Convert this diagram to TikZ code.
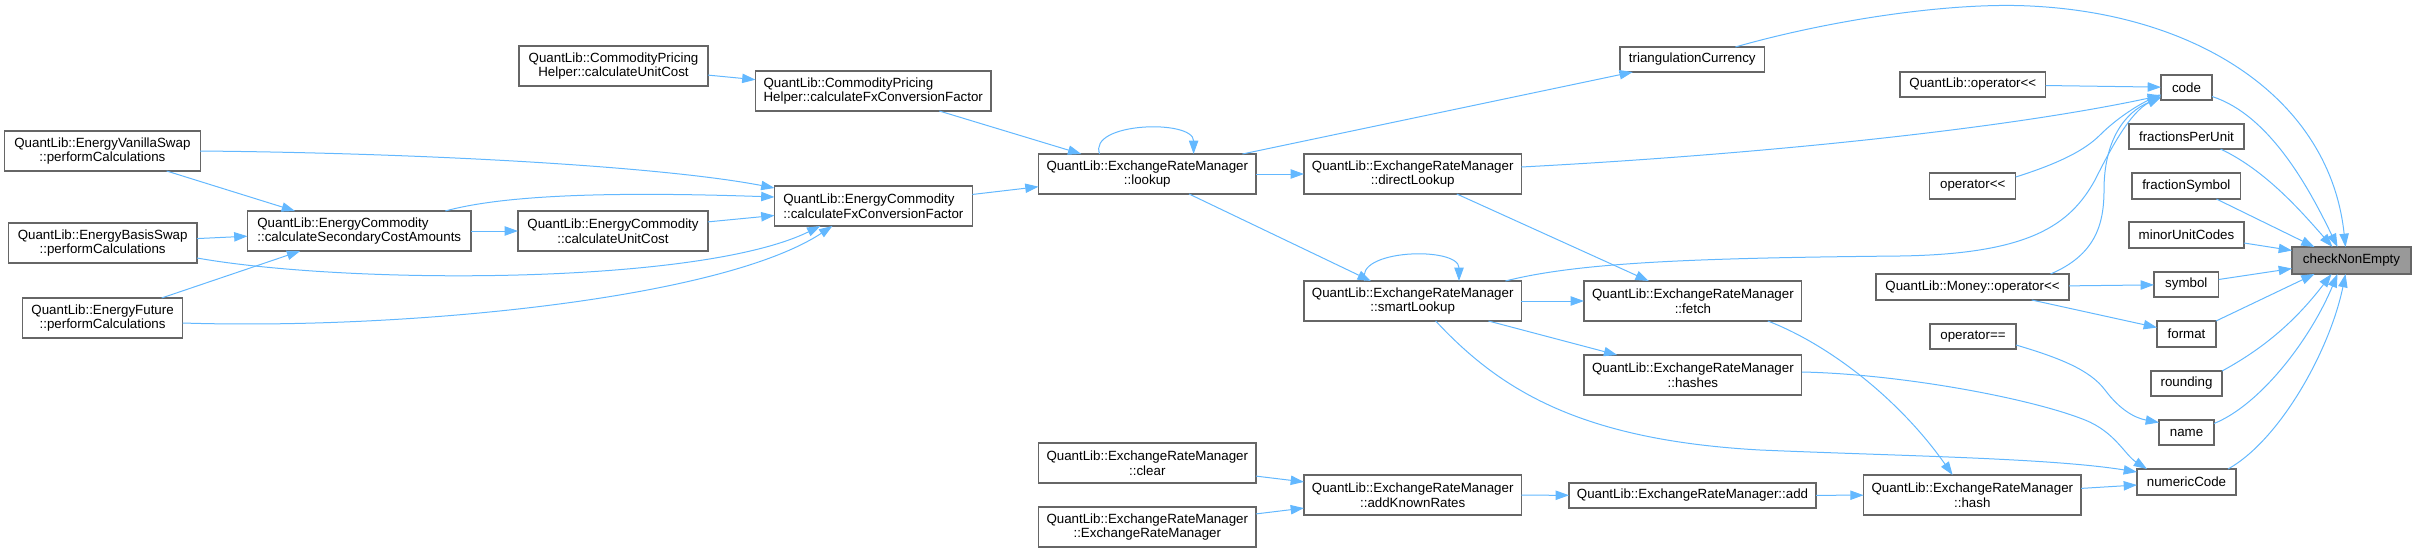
\documentclass[tikz,border=0pt]{standalone}
\usepackage{fontspec}
\setmainfont{Liberation Sans}
\usetikzlibrary{arrows.meta,calc}
\definecolor{edgec}{HTML}{63B8FF}
\definecolor{boxc}{HTML}{666666}
\definecolor{hilite}{HTML}{999999}
\begin{document}
\begin{tikzpicture}[x=0.75pt,y=-0.75pt,
  box/.style={draw=boxc, line width=0.8pt, fill=white, inner sep=0pt, outer sep=0pt, align=center, font=\fontsize{10pt}{11pt}\selectfont, text=black},
  sz/.style 2 args={minimum width=#1*0.75pt, minimum height=#2*0.75pt},
  e/.style={draw=edgec, line width=0.75pt, -{Triangle[length=10pt,width=7pt]}},
]
\useasboundingbox (0,0) rectangle (2416,553);
% nodes
\node[box, sz={189}{40}] (cphUnit) at (613.5,66) {QuantLib::CommodityPricing\\Helper::calculateUnitCost};
\node[box, sz={235.5}{40}, align=left] (cphFx) at (873.25,91) {QuantLib::CommodityPricing\\Helper::calculateFxConversionFactor};
\node[box, sz={195.3}{40}] (evs) at (102.4,151) {QuantLib::EnergyVanillaSwap\\::performCalculations};
\node[box, sz={188.7}{40}] (ebs) at (102.65,243) {QuantLib::EnergyBasisSwap\\::performCalculations};
\node[box, sz={160.2}{40}] (ef) at (102.6,318) {QuantLib::EnergyFuture\\::performCalculations};
\node[box, sz={223.5}{40}, align=left] (ecSec) at (359.25,231) {QuantLib::EnergyCommodity\\::calculateSecondaryCostAmounts};
\node[box, sz={190}{40}] (ecUnit) at (613,231) {QuantLib::EnergyCommodity\\::calculateUnitCost};
\node[box, sz={197.8}{40}, align=left] (ecFx) at (873.4,206) {QuantLib::EnergyCommodity\\::calculateFxConversionFactor};
\node[box, sz={217.4}{40}] (lookup) at (1147.3,174) {QuantLib::ExchangeRateManager\\::lookup};
\node[box, sz={217.4}{40}] (clear) at (1147.3,463) {QuantLib::ExchangeRateManager\\::clear};
\node[box, sz={217.4}{40}] (ermCtor) at (1147.3,527) {QuantLib::ExchangeRateManager\\::ExchangeRateManager};
\node[box, sz={144.6}{25}] (triCur) at (1692.3,59.5) {triangulationCurrency};
\node[box, sz={217.4}{40}] (direct) at (1412.7,174) {QuantLib::ExchangeRateManager\\::directLookup};
\node[box, sz={217.4}{40}] (smart) at (1412.7,301) {QuantLib::ExchangeRateManager\\::smartLookup};
\node[box, sz={217.8}{40}] (fetch) at (1692.9,301) {QuantLib::ExchangeRateManager\\::fetch};
\node[box, sz={217.8}{40}] (hashes) at (1692.9,375) {QuantLib::ExchangeRateManager\\::hashes};
\node[box, sz={217.4}{40}] (addKnown) at (1412.7,495) {QuantLib::ExchangeRateManager\\::addKnownRates};
\node[box, sz={247}{25}] (add) at (1692.5,495.5) {QuantLib::ExchangeRateManager::add};
\node[box, sz={217.4}{40}] (hash) at (1972.3,495) {QuantLib::ExchangeRateManager\\::hash};
\node[box, sz={145.6}{25}] (qlop) at (1972.8,84.5) {QuantLib::operator<{}<};
\node[box, sz={86}{26}] (op) at (1972.75,186) {operator<{}<};
\node[box, sz={193}{26}] (moneyop) at (1972.5,287) {QuantLib::Money::operator<{}<};
\node[box, sz={86}{25}] (opeq) at (1973,336.5) {operator==};
\node[box, sz={51}{25}] (code) at (2186.5,87.5) {code};
\node[box, sz={115}{25}] (fpu) at (2186.5,136.5) {fractionsPerUnit};
\node[box, sz={108.7}{26}] (fsym) at (2186.35,186) {fractionSymbol};
\node[box, sz={115}{26}] (muc) at (2186.5,235) {minorUnitCodes};
\node[box, sz={64.6}{25}] (symbol) at (2186.3,284.5) {symbol};
\node[box, sz={59}{26}] (format) at (2186.5,334) {format};
\node[box, sz={71}{25}] (rounding) at (2186.5,383.5) {rounding};
\node[box, sz={55}{25}] (name) at (2186.5,432.5) {name};
\node[box, sz={99}{26}] (numeric) at (2186.5,482) {numericCode};
\node[box, sz={119}{27}, fill=hilite] (check) at (2351.5,260.5) {checkNonEmpty};
% edges
\draw[e] (cphUnit) -- (cphFx);
\draw[e] (cphFx) -- (lookup);
\draw[e] (evs) -- (ecSec);
\draw[e] (evs.east) .. controls (420,153) and (660,166) .. ($(ecFx.west)+(0,-18)$);
\draw[e] (ebs) -- (ecSec);
\draw[e] ($(ebs.east)+(0,15)$) .. controls (350,285) and (700,285) .. ($(ecFx.south)+(-53,0)$);
\draw[e] (ef) -- (ecSec);
\draw[e] ($(ef.east)+(0,5)$) .. controls (400,330) and (720,300) .. ($(ecFx.south)+(-41,0)$);
\draw[e] (ecSec) -- (ecUnit);
\draw[e] ($(ecSec.north)+(86,0)$) .. controls (500,196) and (600,191) .. ($(ecFx.west)+(0,-9)$);
\draw[e] (ecUnit) -- (ecFx);
\draw[e] (ecFx) -- (lookup);
\draw[e] ($(lookup.north west)+(61,0)$) .. controls +(-12,-32) and +(0,-35) .. ($(lookup.north west)+(155,0)$);
\draw[e] (lookup) -- (triCur);
\draw[e] (lookup) -- (direct);
\draw[e] (lookup) -- (smart);
\draw[e] ($(triCur.north)+(43,0)$) .. controls (1830,20) and (1950,2) .. (2030,6) .. controls (2200,14) and (2330,100) .. ($(check.north)+(-6,0)$);
\draw[e] ($(direct.east)+(0,-7)$) .. controls (1750,155) and (2000,130) .. ($(code.west)+(0,8)$);
\draw[e] (direct) -- (fetch);
\draw[e] ($(smart.north west)+(61,0)$) .. controls +(-12,-32) and +(0,-35) .. ($(smart.north west)+(155,0)$);
\draw[e] ($(smart.north east)+(-16,0)$) .. controls (1580,262) and (1700,258) .. (1900,256) .. controls (2030,254) and (2070,225) .. (2095,180) .. controls (2110,150) and (2130,112) .. ($(code.west)+(0,9)$);
\draw[e] (smart) -- (fetch);
\draw[e] (smart) -- (hashes);
\draw[e] ($(smart.south)+(23,0)$) .. controls (1500,390) and (1580,440) .. (1760,450) .. controls (1900,456) and (2050,458) .. ($(numeric.west)+(0,-10)$);
\draw[e] ($(fetch.south east)+(-34,0)$) .. controls (1830,345) and (1900,400) .. ($(hash.north west)+(89,0)$);
\draw[e] ($(hashes.east)+(0,-3)$) .. controls (1900,374) and (2030,398) .. (2085,420) .. controls (2115,432) and (2125,455) .. ($(numeric.north west)+(10,0)$);
\draw[e] (hash) -- (numeric);
\draw[e] (add) -- (hash);
\draw[e] (addKnown) -- (add);
\draw[e] (clear) -- (addKnown);
\draw[e] (ermCtor) -- (addKnown);
\draw[e] (qlop) -- (code);
\draw[e] ($(op.east)+(0,-9)$) .. controls (2060,163) and (2085,150) .. (2100,135) .. controls (2118,117) and (2140,104) .. ($(code.west)+(0,7)$);
\draw[e] ($(moneyop.north)+(78,0)$) .. controls (2095,255) and (2104,225) .. (2104,190) .. controls (2104,140) and (2125,112) .. ($(code.west)+(0,10)$);
\draw[e] (moneyop) -- (symbol);
\draw[e] (moneyop) -- (format);
\draw[e] ($(opeq.east)+(0,8.5)$) .. controls (2060,358) and (2090,370) .. (2105,390) .. controls (2120,410) and (2135,418) .. ($(name.west)+(0,-10)$);
\draw[e] ($(code.east)+(0,9)$) .. controls (2270,115) and (2310,190) .. ($(check.north)+(-14,0)$);
\draw[e] ($(fpu.south)+(34,0)$) .. controls (2265,170) and (2300,210) .. ($(check.north)+(-19,0)$);
\draw[e] ($(fsym.south)+(30,0)$) -- ($(check.north)+(-37,0)$);
\draw[e] ($(muc.east)+(0,8)$) -- ($(check.west)+(0,-10)$);
\draw[e] ($(symbol.east)+(0,-5)$) -- ($(check.west)+(0,8)$);
\draw[e] (format.north east) -- ($(check.south)+(-37,0)$);
\draw[e] (rounding.north east) .. controls (2270,345) and (2300,315) .. ($(check.south)+(-20,0)$);
\draw[e] ($(name.east)+(0,-9)$) .. controls (2260,405) and (2310,340) .. ($(check.south)+(-14,0)$);
\draw[e] ($(numeric.north east)+(-8,0)$) .. controls (2280,440) and (2330,350) .. ($(check.south)+(-6,0)$);
\end{tikzpicture}
\end{document}
